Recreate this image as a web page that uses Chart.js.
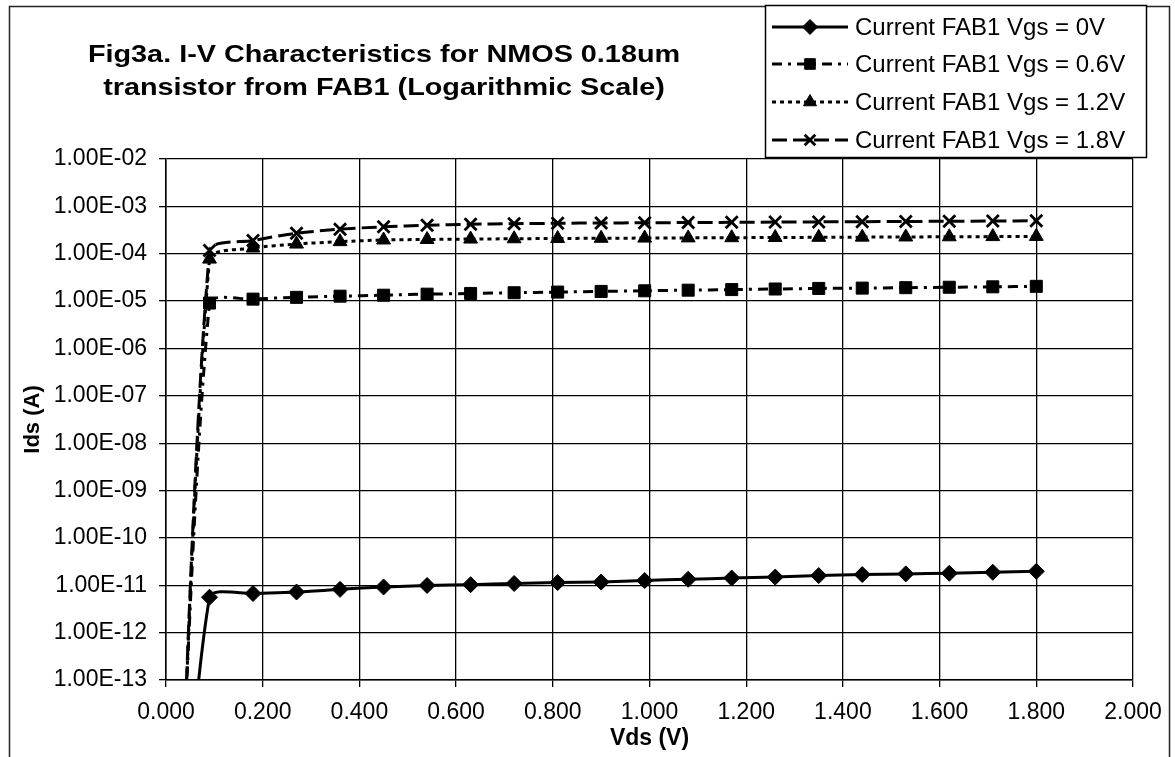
<!DOCTYPE html>
<html>
<head>
<meta charset="utf-8">
<title>Fig3a I-V Characteristics</title>
<script src="https://cdn.jsdelivr.net/npm/chart.js@4.4.1/dist/chart.umd.min.js"></script>
<style>
    html, body { margin: 0; padding: 0; background: #fff; }
    #wrap { width: 1175px; height: 757px; }
</style>
</head>
<body>
<div id="wrap"><canvas id="iv-fab1" width="1175" height="757"></canvas></div>
<script>
/* data (Vds in volts, Ids in amps) */
const vdsValues = [0.00, 0.09, 0.18, 0.27, 0.36, 0.45, 0.54, 0.63, 0.72, 0.81, 0.90,
    0.99, 1.08, 1.17, 1.26, 1.35, 1.44, 1.53, 1.62, 1.71, 1.80];

const idsVgs0 = [1e-22, 5.6e-12, 6.7e-12, 7.2e-12, 8.2e-12, 9.2e-12, 9.9e-12, 1.03e-11,
    1.09e-11, 1.14e-11, 1.17e-11, 1.26e-11, 1.34e-11, 1.42e-11, 1.49e-11, 1.6e-11,
    1.68e-11, 1.74e-11, 1.79e-11, 1.88e-11, 1.97e-11];
const idsVgs06 = [1e-24, 9.1e-6, 1.1e-5, 1.2e-5, 1.27e-5, 1.33e-5, 1.4e-5, 1.45e-5,
    1.5e-5, 1.55e-5, 1.6e-5, 1.65e-5, 1.7e-5, 1.75e-5, 1.8e-5, 1.85e-5, 1.88e-5,
    1.92e-5, 1.96e-5, 2.0e-5, 2.05e-5];
const idsVgs12 = [1e-25, 7.7e-5, 1.32e-4, 1.6e-4, 1.8e-4, 1.95e-4, 2.0e-4, 2.04e-4,
    2.07e-4, 2.1e-4, 2.12e-4, 2.14e-4, 2.16e-4, 2.18e-4, 2.2e-4, 2.22e-4, 2.24e-4,
    2.26e-4, 2.28e-4, 2.3e-4, 2.32e-4];
const idsVgs18 = [1e-25, 1.17e-4, 1.9e-4, 2.7e-4, 3.3e-4, 3.7e-4, 4.0e-4, 4.2e-4,
    4.3e-4, 4.4e-4, 4.45e-4, 4.5e-4, 4.55e-4, 4.6e-4, 4.65e-4, 4.7e-4, 4.75e-4,
    4.8e-4, 4.85e-4, 4.9e-4, 4.95e-4];

const seriesLabels = [
    "Current FAB1 Vgs = 0V",
    "Current FAB1 Vgs = 0.6V",
    "Current FAB1 Vgs = 1.2V",
    "Current FAB1 Vgs = 1.8V",
];

const titleLines = [
    "Fig3a. I-V Characteristics for NMOS 0.18um",
    "transistor from FAB1 (Logarithmic Scale)",
];

const xTickValues = [0, 0.2, 0.4, 0.6, 0.8, 1.0, 1.2, 1.4, 1.6, 1.8, 2.0];
const yTickValues = [1e-13, 1e-12, 1e-11, 1e-10, 1e-9, 1e-8, 1e-7, 1e-6, 1e-5, 1e-4, 1e-3, 1e-2];
const yTickLabels = ["1.00E-13", "1.00E-12", "1.00E-11", "1.00E-10", "1.00E-09", "1.00E-08",
    "1.00E-07", "1.00E-06", "1.00E-05", "1.00E-04", "1.00E-03", "1.00E-02"];

const FONT = "'Liberation Sans', Arial, Helvetica, sans-serif";

function points(values) {
    return vdsValues.map((v, i) => ({ x: v, y: values[i] }));
}

function series(label, values, dash, width, style, radius) {
    return {
        label: label,
        data: points(values),
        borderColor: "#000",
        backgroundColor: "#000",
        borderWidth: width,
        borderDash: dash,
        pointStyle: style,
        pointRadius: (c) => (c.dataIndex === 0 ? 0 : radius),
        pointBorderWidth: style === "crossRot" ? 2.8 : 1,
        pointBorderColor: "#000",
        pointBackgroundColor: "#000",
        tension: 0.25,
        clip: 0,
    };
}

const datasets = [
    series(seriesLabels[0], idsVgs0, [], 3, "rectRot", 8),
    series(seriesLabels[1], idsVgs06, [10, 6, 3, 6], 3, "rect", 8.5),
    series(seriesLabels[2], idsVgs12, [4, 4], 3, "triangle", 8),
    series(seriesLabels[3], idsVgs18, [15, 6], 3, "crossRot", 8.5),
];

// frame, title and legend box are drawn by hand
const decorPlugin = {
    id: "decor",
    afterDraw(chart) {
        const ctx = chart.ctx;
        ctx.save();
        ctx.strokeStyle = "#222";
        ctx.lineWidth = 1.5;
        ctx.strokeRect(9.5, 6.5, 1160, 760);

        // title text in the scan is a little wider than Arial, so stretch it
        ctx.fillStyle = "#000";
        ctx.font = "bold 24px " + FONT;
        ctx.textAlign = "center";
        ctx.textBaseline = "alphabetic";
        [62, 95].forEach((y, i) => {
            ctx.save();
            ctx.translate(384, y);
            ctx.scale(1.2, 1);
            ctx.fillText(titleLines[i], 0, 0);
            ctx.restore();
        });

        // legend
        ctx.fillStyle = "#fff";
        ctx.fillRect(765, 5, 381, 152);
        ctx.strokeStyle = "#000";
        ctx.lineWidth = 1.5;
        ctx.strokeRect(765.5, 5.5, 381, 152);
        const rowY = [27, 64, 102, 140];
        chart.data.datasets.forEach((ds, i) => {
            const y = rowY[i];
            ctx.save();
            ctx.strokeStyle = "#000";
            ctx.lineWidth = ds.borderWidth;
            ctx.setLineDash(ds.borderDash);
            ctx.beginPath();
            ctx.moveTo(772, y);
            ctx.lineTo(848, y);
            ctx.stroke();
            ctx.setLineDash([]);
            ctx.fillStyle = "#000";
            ctx.lineWidth = ds.pointBorderWidth;
            Chart.helpers.drawPoint(ctx, {
                pointStyle: ds.pointStyle,
                radius: 7.5,
                rotation: 0,
                borderWidth: ds.pointBorderWidth,
            }, 810, y);
            ctx.restore();
            ctx.fillStyle = "#000";
            ctx.font = "24px " + FONT;
            ctx.textAlign = "left";
            ctx.textBaseline = "middle";
            ctx.fillText(ds.label, 855, y + 1);
        });
        ctx.restore();
    },
};

const config = {
    type: "line",
    data: { datasets: datasets },
    options: {
        responsive: false,
        animation: false,
        events: [],
        layout: { padding: { top: 159, right: 42, left: 0, bottom: 0 } },
        plugins: {
            legend: { display: false },
            title: { display: false },
            tooltip: { enabled: false },
        },
        scales: {
            x: {
                type: "linear",
                min: 0,
                max: 2,
                afterBuildTicks: (scale) => {
                    scale.ticks = xTickValues.map((v) => ({ value: v }));
                },
                afterFit: (scale) => {
                    scale.height = 77;
                },
                ticks: {
                    autoSkip: false,
                    maxRotation: 0,
                    padding: 12,
                    color: "#000",
                    font: { family: FONT, size: 23 },
                    callback: (v) => Number(v).toFixed(3),
                },
                grid: { color: "#000", lineWidth: 1.3, tickLength: 7 },
                border: { color: "#000", width: 1.5 },
                title: {
                    display: true,
                    text: "Vds (V)",
                    color: "#000",
                    font: { family: FONT, size: 23, weight: "bold" },
                    padding: { top: 0, bottom: 5 },
                },
            },
            y: {
                type: "logarithmic",
                min: 1e-13,
                max: 1e-2,
                afterBuildTicks: (scale) => {
                    scale.ticks = yTickValues.map((v) => ({ value: v, major: true }));
                },
                afterFit: (scale) => {
                    scale.width = 166;
                },
                ticks: {
                    autoSkip: false,
                    padding: 12,
                    color: "#000",
                    font: { family: FONT, size: 23 },
                    callback: (v, i) => yTickLabels[i],
                },
                grid: { color: "#000", lineWidth: 1.3, tickLength: 7 },
                border: { color: "#000", width: 1.5 },
                title: {
                    display: true,
                    text: "Ids (A)",
                    color: "#000",
                    font: { family: FONT, size: 22, weight: "bold" },
                    padding: { top: 20, bottom: 0 },
                },
            },
        },
    },
    plugins: [decorPlugin],
};

const canvas = document.getElementById("iv-fab1");
canvas.chart = new Chart(canvas, config);
</script>
</body>
</html>
